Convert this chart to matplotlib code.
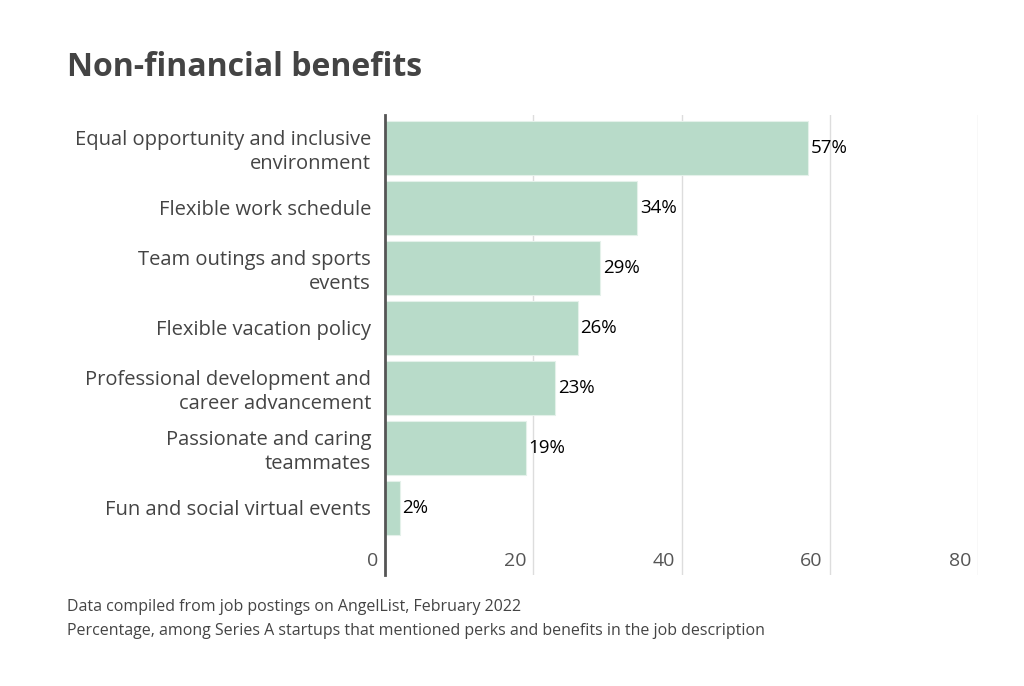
import matplotlib.pyplot as plt
from matplotlib.transforms import blended_transform_factory, offset_copy

plt.rcParams['font.family'] = ['Open Sans', 'DejaVu Sans']

# Data
categories = [
    'Equal opportunity and inclusive\nenvironment',
    'Flexible work schedule',
    'Team outings and sports\nevents',
    'Flexible vacation policy',
    'Professional development and\ncareer advancement',
    'Passionate and caring\nteammates',
    'Fun and social virtual events',
]
values = [57, 34, 29, 26, 23, 19, 2]
xticks = [0, 20, 40, 60, 80]

text_col = '#444444'
bar_col = '#b8dbc9'

fig = plt.figure(figsize=(10.24, 6.86), dpi=100)
ax = fig.add_axes([385 / 1024, 1 - 575 / 686, (978 - 385) / 1024, (575 - 115) / 686])

ypos = list(range(len(categories)))
ax.barh(ypos, values, height=0.9, color=bar_col, edgecolor='#e4f1ea', linewidth=0.8, zorder=2)

ax.set_xlim(0, 80)
ax.set_ylim(len(categories) - 1 + 1.117, -0.55)

# gridlines (no line at 0, the spine is there)
for t in xticks[1:]:
    ax.axvline(t, color='#dddddd', linewidth=1, zorder=1)

for s in ['top', 'right', 'bottom']:
    ax.spines[s].set_visible(False)
ax.spines['left'].set_color('#555555')
ax.spines['left'].set_linewidth(2)
ax.spines['left'].set_zorder(3)

ax.set_xticks([])
ax.set_yticks(ypos)
ax.set_yticklabels(categories, fontsize=14.5, color=text_col, ha='right', linespacing=1.25)
ax.tick_params(axis='y', length=0, pad=10)

# x tick labels drawn inside the bottom of the axes
trans = blended_transform_factory(ax.transData, ax.transAxes)
trans = offset_copy(trans, fig=fig, x=-5, y=0, units='points')
for t in xticks:
    ax.text(t, 0.03, str(t), transform=trans, ha='right', va='center',
            fontsize=14, color='#555555')

# value labels
for y, v in zip(ypos, values):
    ax.annotate(f'{v}%', (v, y), xytext=(2, 0), textcoords='offset points',
                ha='left', va='center', fontsize=13.5, color='black', zorder=4)

fig.text(67 / 1024, 1 - 68 / 686, 'Non-financial benefits', fontsize=23,
         fontweight='bold', color=text_col, ha='left', va='center')
fig.text(67 / 1024, 1 - 607 / 686, 'Data compiled from job postings on AngelList, February 2022',
         fontsize=11.5, color=text_col, ha='left', va='center')
fig.text(67 / 1024, 1 - 631 / 686,
         'Percentage, among Series A startups that mentioned perks and benefits in the job description',
         fontsize=11.5, color=text_col, ha='left', va='center')

fig.savefig('out.png', dpi=100, facecolor='white')
